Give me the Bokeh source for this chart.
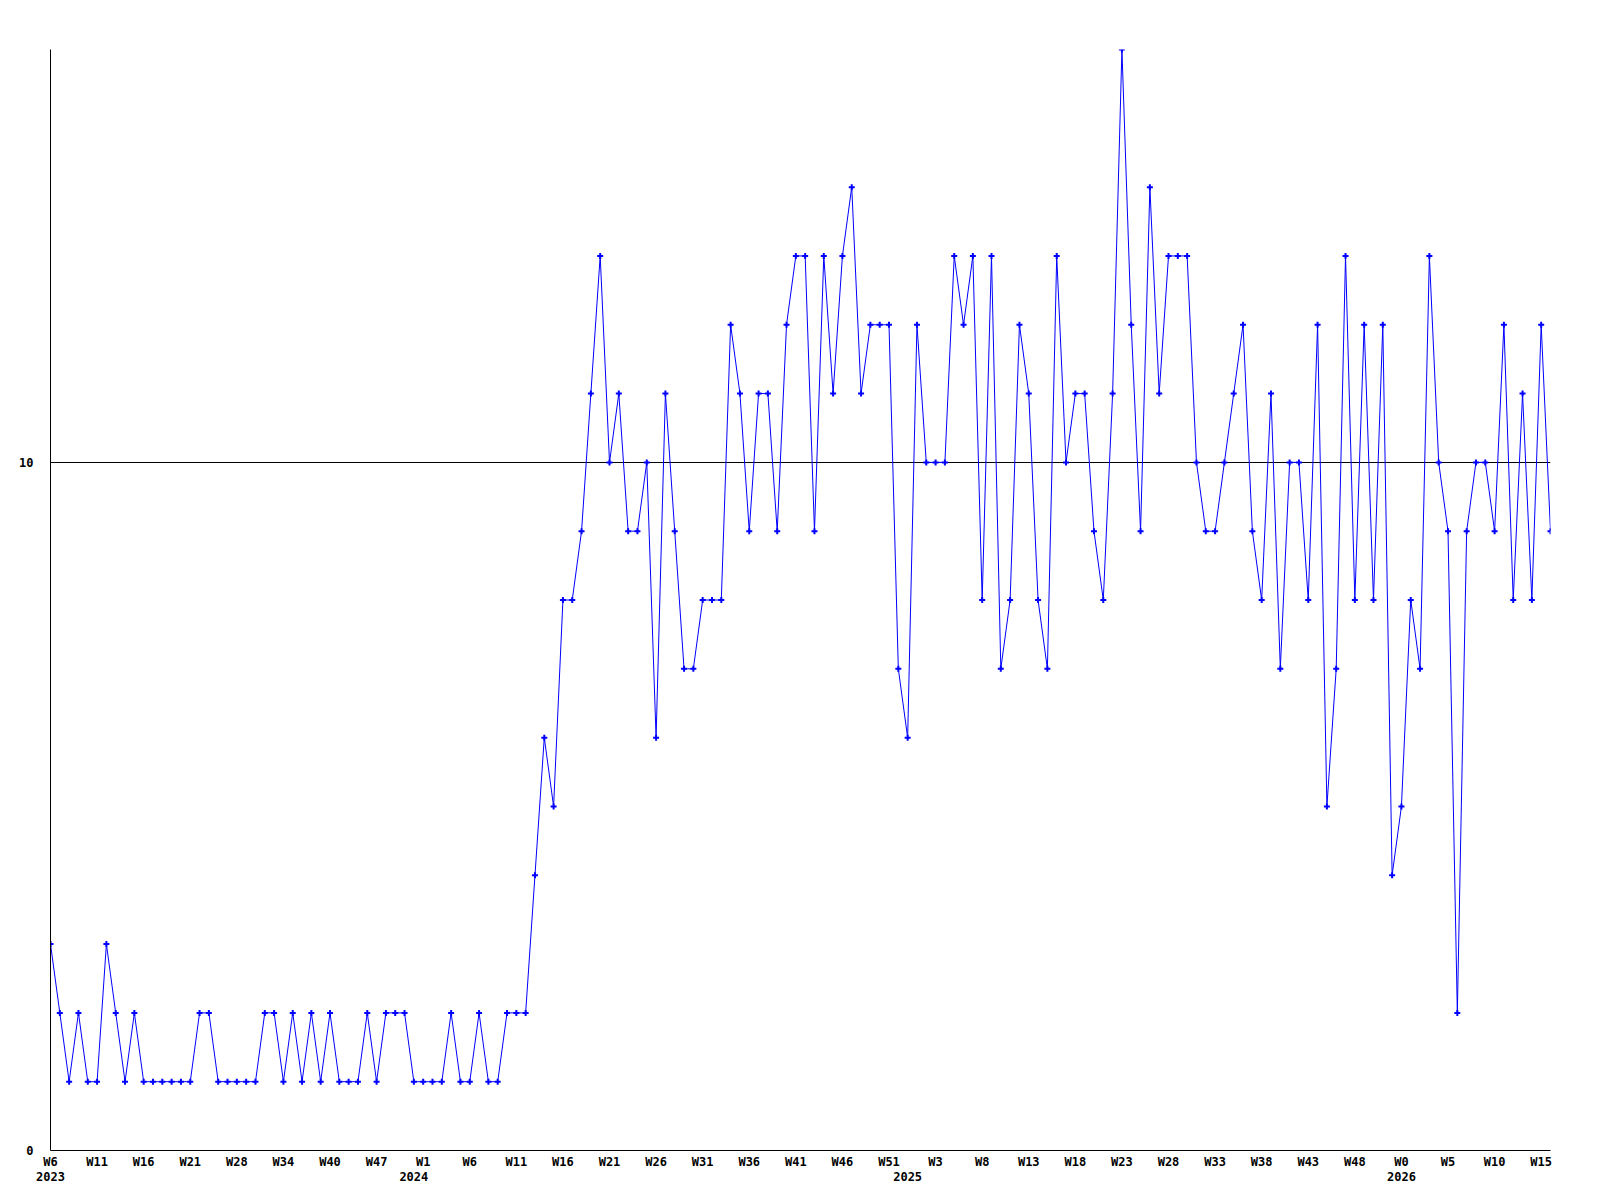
from bokeh.plotting import figure
from bokeh.models import FixedTicker, LinearAxis, Range1d
from bokeh.embed import file_html
from bokeh.resources import INLINE

# weekly values, one per point (index = position along the x axis)
VALUES = [
    3, 2, 1, 2, 1, 1, 3, 2, 1, 2,
    1, 1, 1, 1, 1, 1, 2, 2, 1, 1,
    1, 1, 1, 2, 2, 1, 2, 1, 2, 1,
    2, 1, 1, 1, 2, 1, 2, 2, 2, 1,
    1, 1, 1, 2, 1, 1, 2, 1, 1, 2,
    2, 2, 4, 6, 5, 8, 8, 9, 11, 13,
    10, 11, 9, 9, 10, 6, 11, 9, 7, 7,
    8, 8, 8, 12, 11, 9, 11, 11, 9, 12,
    13, 13, 9, 13, 11, 13, 14, 11, 12, 12,
    12, 7, 6, 12, 10, 10, 10, 13, 12, 13,
    8, 13, 7, 8, 12, 11, 8, 7, 13, 10,
    11, 11, 9, 8, 11, 16, 12, 9, 14, 11,
    13, 13, 13, 10, 9, 9, 10, 11, 12, 9,
    8, 11, 7, 10, 10, 8, 12, 5, 7, 13,
    8, 12, 8, 12, 4, 5, 8, 7, 13, 10,
    9, 2, 9, 10, 10, 9, 12, 8, 11, 8,
    12, 9,
]
X = list(range(len(VALUES)))

WEEK_TICK_IDX = list(range(0, 161, 5))
WEEK_LABELS = ["W6", "W11", "W16", "W21", "W28", "W34", "W40", "W47",
               "W1", "W6", "W11", "W16", "W21", "W26", "W31", "W36", "W41",
               "W46", "W51", "W3", "W8", "W13", "W18", "W23", "W28", "W33",
               "W38", "W43", "W48", "W0", "W5", "W10", "W15"]
YEAR_TICK_IDX = [0, 39, 92, 145]
YEAR_LABELS = ["2023", "2024", "2025", "2026"]
Y_TICKS = [0, 10]
Y_LABELS = ["0", "10"]

FONT = "DejaVu Sans Mono"
FSIZE = "12px"
BLUE = "#0000ff"

p = figure(width=1584, height=1192, output_backend="svg", toolbar_location=None,
           x_range=Range1d(0, len(VALUES) - 1), y_range=Range1d(0, max(VALUES)),
           min_border_left=50, min_border_right=34, min_border_top=49,
           min_border_bottom=42)
p.outline_line_color = None
p.background_fill_color = "white"
p.border_fill_color = "white"

# x axis: week labels
xa = p.xaxis[0]
xa.ticker = FixedTicker(ticks=WEEK_TICK_IDX)
xa.major_label_overrides = dict(zip(WEEK_TICK_IDX, WEEK_LABELS))
xa.major_tick_line_color = None
xa.minor_tick_line_color = None
xa.major_tick_out = 0
xa.major_tick_in = 0
xa.axis_line_color = "black"
xa.major_label_standoff = 4
xa.major_label_text_font = FONT
xa.major_label_text_font_style = "bold"
xa.major_label_text_font_size = FSIZE
xa.major_label_text_color = "black"

# second x axis: years
ya2 = LinearAxis(ticker=FixedTicker(ticks=YEAR_TICK_IDX),
                 major_label_overrides=dict(zip(YEAR_TICK_IDX, YEAR_LABELS)),
                 axis_line_color=None, major_tick_line_color=None,
                 minor_tick_line_color=None, major_tick_out=0, major_tick_in=0,
                 major_label_standoff=0, major_label_text_font=FONT,
                 major_label_text_font_style="bold",
                 major_label_text_font_size=FSIZE,
                 major_label_text_color="black")
p.add_layout(ya2, "below")

# y axis
ya = p.yaxis[0]
ya.ticker = FixedTicker(ticks=Y_TICKS)
ya.major_label_overrides = dict(zip(Y_TICKS, Y_LABELS))
ya.major_tick_line_color = None
ya.minor_tick_line_color = None
ya.major_tick_out = 0
ya.major_tick_in = 0
ya.axis_line_color = "black"
ya.major_label_standoff = 17
ya.major_label_text_font = FONT
ya.major_label_text_font_style = "bold"
ya.major_label_text_font_size = FSIZE
ya.major_label_text_color = "black"

p.xgrid.visible = False
p.ygrid.ticker = FixedTicker(ticks=Y_TICKS)
p.ygrid.grid_line_color = "black"
p.ygrid.grid_line_alpha = 1.0
p.ygrid.grid_line_width = 1

p.line(X, VALUES, line_color=BLUE, line_width=1)
p.scatter(X, VALUES, marker="cross", size=6, line_width=2, line_color=BLUE)

open("out.html", "w").write(file_html(p, INLINE))
